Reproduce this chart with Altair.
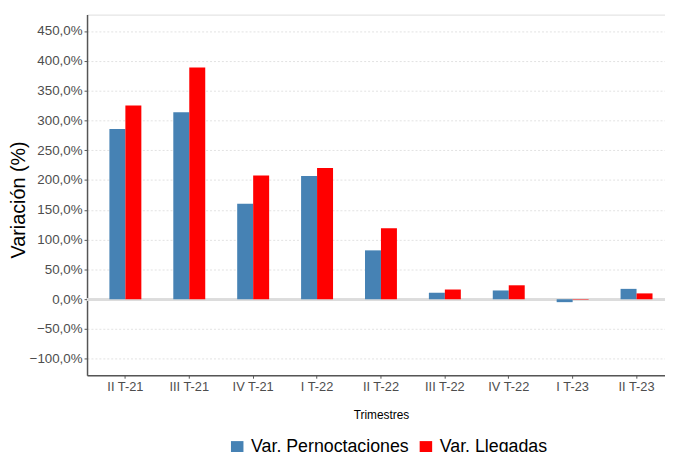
import altair as alt
import pandas as pd

categories = ["II T-21", "III T-21", "IV T-21", "I T-22", "II T-22",
              "III T-22", "IV T-22", "I T-23", "II T-23"]
pernoctaciones = [285.4, 313.6, 160.4, 206.9, 82.0, 10.9, 14.7, -4.9, 17.4]
llegadas = [325.2, 388.8, 207.4, 220.1, 119.0, 16.3, 23.4, -0.8, 9.8]
series = ["Var. Pernoctaciones", "Var. Llegadas"]
colors = ["#4682B4", "#FF0000"]
y_ticks = [-100, -50, 0, 50, 100, 150, 200, 250, 300, 350, 400, 450]

rows = []
for c, p, l in zip(categories, pernoctaciones, llegadas):
    rows.append({"Trimestre": c, "Serie": series[0], "Valor": p})
    rows.append({"Trimestre": c, "Serie": series[1], "Valor": l})
df = pd.DataFrame(rows)

FONT = "Liberation Sans"

y_axis = alt.Axis(title="Variación (%)", values=y_ticks,
                  labelExpr="replace(format(datum.value, '.1f'), '.', ',') + '%'",
                  labelFontSize=13.5, labelColor="#4d4d4d", labelFont=FONT,
                  labelPadding=2, tickSize=3, tickColor="#555555",
                  domainColor="#555555", domainWidth=1.5, labelOverlap=False,
                  grid=True, gridColor="#dadada", gridDash=[2, 2], gridWidth=0.8,
                  titleFontSize=20, titleFont=FONT, titleColor="#000000",
                  titleFontWeight="normal", titleAngle=-90,
                  titleX=-63, titleY=187, titleBaseline="alphabetic",
                  titleAlign="center")
y_scale = alt.Scale(domain=[-127.5, 477.5], nice=False, zero=False)

base = alt.Chart(df)

bars = base.mark_bar().encode(
    x=alt.X("Trimestre:N", sort=categories,
            scale=alt.Scale(range=[0, 595], paddingInner=0.5, paddingOuter=0.35),
            axis=alt.Axis(title="Trimestres", labelAngle=0, grid=False,
                          labelFontSize=13, labelColor="#4d4d4d", labelFont=FONT,
                          labelPadding=2, tickSize=3, tickColor="#555555",
                          domainColor="#555555", domainWidth=1.5, labelOverlap=False,
                          titleFontSize=12, titleFont=FONT, titleColor="#000000",
                          titleFontWeight="normal", titleX=297.5, titleY=43.5,
                          titleBaseline="alphabetic", titleAlign="center")),
    xOffset=alt.XOffset("Serie:N", sort=series,
                        scale=alt.Scale(paddingInner=0, paddingOuter=0)),
    y=alt.Y("Valor:Q", scale=y_scale, axis=y_axis),
    color=alt.Color("Serie:N", sort=series,
                    scale=alt.Scale(domain=series, range=colors),
                    legend=alt.Legend(title=None, orient="none", direction="horizontal",
                                      legendX=143, legendY=429,
                                      symbolType="square", symbolSize=160,
                                      symbolStrokeWidth=0, symbolOpacity=1,
                                      labelFontSize=18, labelFont=FONT, labelColor="#000000",
                                      labelOffset=5, columnPadding=8)),
)

zero = base.mark_rule(color="#dcdcdc", strokeWidth=2).encode(
    y=alt.Y(datum=0, scale=y_scale, axis=y_axis))

chart = alt.layer(zero, bars).properties(
    width=585, height=365,
    autosize=alt.AutoSizeParams(type="none"),
    padding={"left": 80, "top": 4, "right": 0, "bottom": 75},
).configure_view(stroke=None).configure_axis(labelOverlap=False).configure(background="white")

chart.save("out.html", embed_options={"renderer": "svg", "actions": False})
